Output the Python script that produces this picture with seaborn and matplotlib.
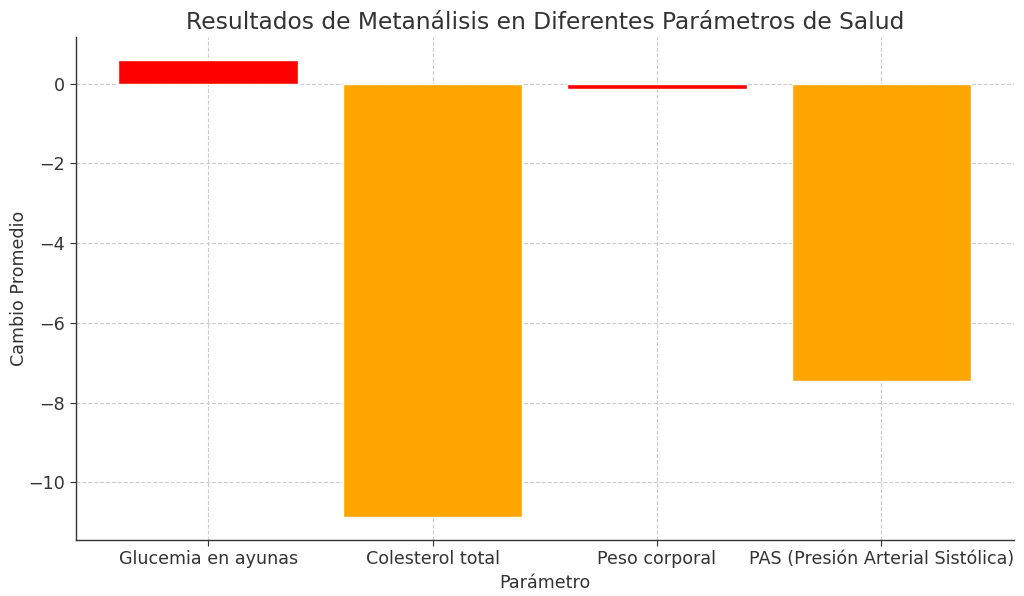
import pandas as pd
import matplotlib.pyplot as plt
import seaborn as sns

parametros = ["Glucemia en ayunas", "Colesterol total", "Peso corporal",
              "PAS (Presión Arterial Sistólica)"]
cambio = [0.6, -10.87, -0.12, -7.46]
colores = ["red", "orange", "red", "orange"]

df = pd.DataFrame({"Parámetro": parametros, "Cambio Promedio": cambio})

sns.set_style("whitegrid", {"grid.linestyle": "--", "grid.color": "#cccccc"})
plt.rcParams['font.family'] = ['DejaVu Sans']
plt.rcParams['text.color'] = '#333333'
plt.rcParams['axes.labelcolor'] = '#333333'
plt.rcParams['xtick.color'] = '#333333'
plt.rcParams['ytick.color'] = '#333333'

fig, ax = plt.subplots(figsize=(10.24, 5.96), dpi=100)
sns.barplot(data=df, x="Parámetro", y="Cambio Promedio", hue="Parámetro",
            palette=colores, width=0.8, saturation=1, legend=False, ax=ax)
ax.set_xlim(-0.59, 3.59)
ax.set_title("Resultados de Metanálisis en Diferentes Parámetros de Salud", fontsize=16.8)
ax.set_xlabel("Parámetro", fontsize=12.6)
ax.set_ylabel("Cambio Promedio", fontsize=12.6, labelpad=0.5)
ax.tick_params(axis="both", labelsize=12.6, length=4, left=True, bottom=True)
for s in ["top", "right"]:
    ax.spines[s].set_visible(False)
for s in ["left", "bottom"]:
    ax.spines[s].set_color("#333333")
    ax.spines[s].set_linewidth(1.0)
ax.grid(True, linestyle="--", color="#cccccc", linewidth=0.8)
ax.set_axisbelow(True)

plt.subplots_adjust(left=0.074, right=0.99, top=0.938, bottom=0.094)
plt.savefig("out.png", dpi=100)
